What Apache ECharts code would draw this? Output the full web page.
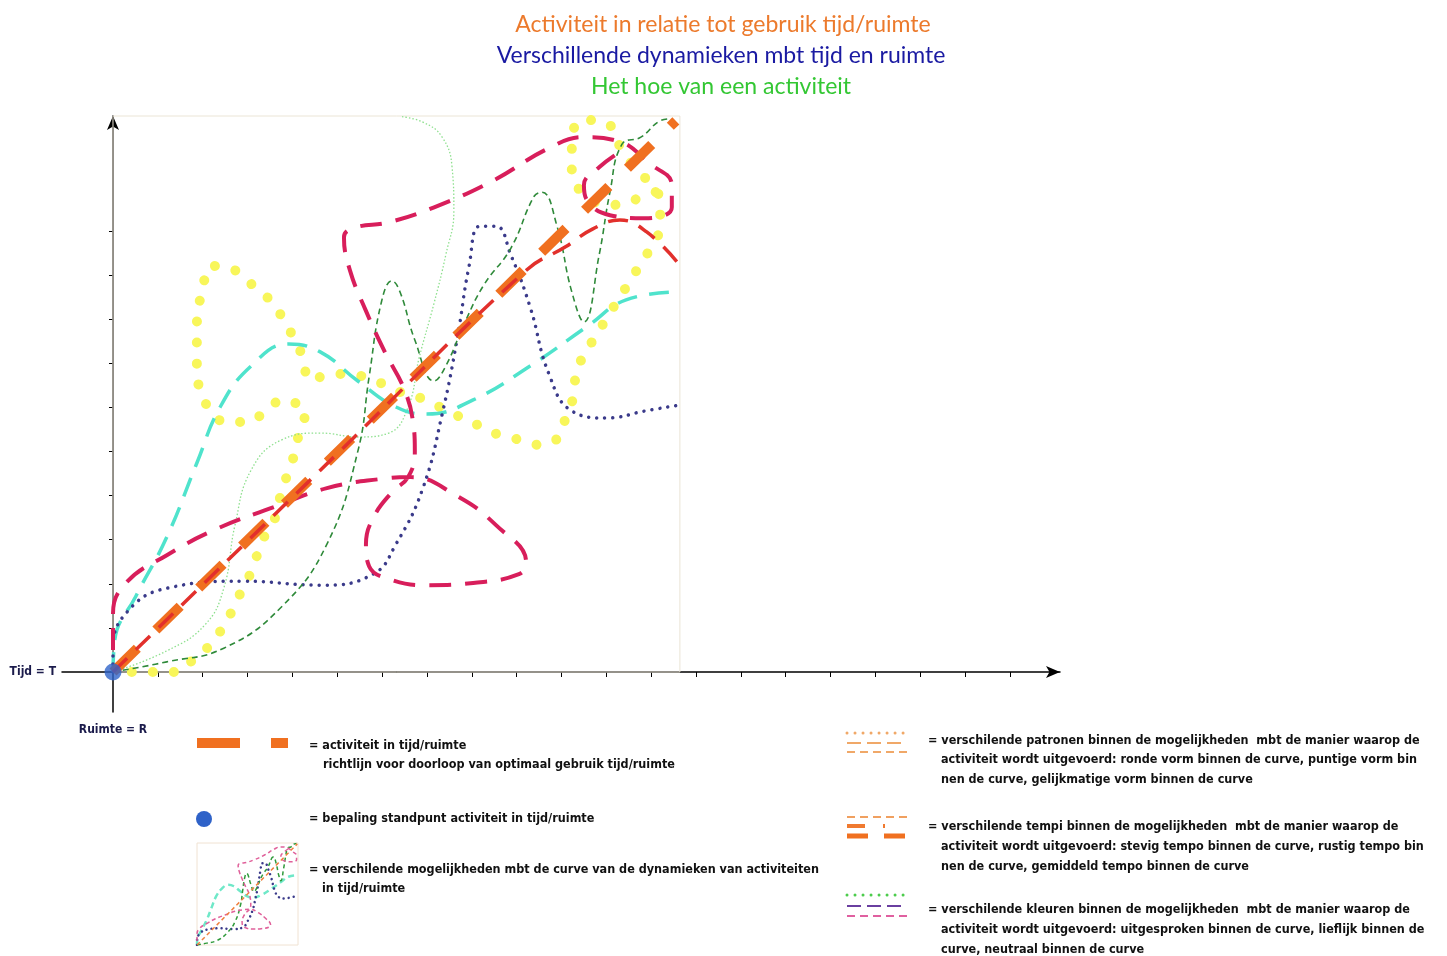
<!DOCTYPE html>
<html>
<head>
<meta charset="utf-8">
<script src="https://cdn.jsdelivr.net/npm/echarts@6/dist/echarts.min.js"></script>
<style>
html,body{margin:0;padding:0;background:#fff;}
#chart{width:1447px;height:956px;}
</style>
</head>
<body>
<div id="chart"></div>
<script>
// ---- Titles ----
const titles = [
  'Activiteit in relatie tot gebruik tijd/ruimte',
  'Verschillende dynamieken mbt tijd en ruimte',
  'Het hoe van een activiteit'
];
const axisNames = ['Tijd = T', 'Ruimte = R'];

// ---- Tick positions (axis units) ----
const xTicks = [1,2,3,4,5,6,7,8,9,10,11,12,13,14,15,16,17,18,19,20];
const yTicks = [1,2,3,4,5,6,7,8,9,10];

// ---- Curves (x = ruimte/tijd units, y = units) ----
const orangeLine = [[0,0],[12.55,12.5]];
const redLine = [[0,0],[5,4.95],[9.2,9.1],[10.1,9.65],[10.7,10.05],[11.3,10.25],[11.9,9.98],[12.62,9.25]];
const cyanCurve = [[0,0],[0.04,0.73],[0.51,1.72],[1.2,3.06],[1.87,4.74],[2.39,6.01],[3.08,6.94],[3.92,7.44],[4.62,7.26],[5.46,6.6],[6.31,6.01],[7.0,5.85],[8.03,6.17],[9.3,6.94],[10.59,7.85],[11.44,8.44],[12.62,8.62]];
const navyCurve = [[0,0],[0,0.54],[0.33,1.38],[1.2,1.9],[2.9,2.06],[4.62,1.97],[5.8,2.22],[6.31,2.9],[6.91,4.17],[7.34,5.85],[7.67,7.53],[7.94,9.21],[8.18,10.11],[8.54,10.11],[8.87,9.46],[9.3,8.28],[9.72,6.76],[10.23,5.92],[11.01,5.76],[11.86,5.92],[12.62,6.05]];
const greenCurve = [[0,0],[1.2,0.23],[2.47,0.54],[3.75,1.47],[4.77,2.9],[5.46,5.01],[5.71,6.69],[5.98,8.37],[6.22,8.87],[6.4,8.62],[6.73,7.53],[7.16,6.6],[7.42,6.94],[7.85,7.94],[8.27,8.78],[8.87,9.61],[9.39,10.79],[9.57,10.88],[9.9,10.11],[10.23,8.62],[10.5,7.94],[10.84,9.46],[11.08,10.88],[11.35,11.97],[11.77,12.13],[12.2,12.5],[12.45,12.55]];
const lightGreenCurve = [[0,0],[1.2,0.48],[2.05,1.07],[2.47,1.9],[2.72,3.33],[3.08,4.58],[3.75,5.26],[4.62,5.42],[5.46,5.33],[6.15,5.42],[6.58,6.01],[6.82,7.1],[7.16,8.37],[7.42,9.46],[7.6,10.45],[7.56,11.45],[7.34,12.13],[6.91,12.47],[6.4,12.6]];
const pinkCurve = [[0,0.5],[0,1.32],[0.29,2.02],[1.2,2.65],[2.3,3.24],[3.59,3.74],[4.77,4.17],[5.98,4.38],[6.64,4.42],[7.67,3.99],[8.54,3.33],[9.21,2.49],[9.05,2.22],[8.03,2.02],[7.0,1.97],[6.15,2.11],[5.71,2.4],[5.64,2.9],[5.8,3.49],[6.22,4.08],[6.58,4.42],[6.73,5.01],[6.69,5.67],[6.49,6.42],[6.06,7.26],[5.64,8.19],[5.28,9.12],[5.15,9.86],[5.37,10.07],[6.15,10.2],[7.16,10.54],[8.45,11.13],[9.72,11.88],[10.5,12.13],[11.26,12.04],[11.95,11.54],[12.46,11.04],[12.46,10.54],[11.86,10.29],[11.08,10.36],[10.57,10.7],[10.5,11.04],[10.84,11.45],[11.44,11.88]];
const yellowCurve = [[0.42,0],[0.89,0],[1.36,0],[1.78,0.27],[2.14,0.59],[2.43,0.98],[2.65,1.38],[2.85,1.81],[3.08,2.27],[3.23,2.7],[3.41,3.15],[3.68,3.65],[3.75,4.13],[3.92,4.54],[4.06,5.01],[4.17,5.51],[4.3,5.92],[4.17,6.05],[3.79,6.17],[3.41,5.92],[2.99,5.67],[2.52,5.67],[2.19,5.92],[1.96,6.35],[1.87,6.85],[1.87,7.35],[1.87,7.85],[1.92,8.32],[2.01,8.78],[2.19,9.21],[2.61,9.16],[2.99,8.87],[3.37,8.57],[3.68,8.19],[3.92,7.78],[4.15,7.35],[4.26,6.94],[4.39,6.62],[4.62,6.69],[5.08,6.76],[5.55,6.71],[5.98,6.55],[6.4,6.35],[6.87,6.21],[7.29,6.01],[7.71,5.8],[8.18,5.58],[8.63,5.37],[9.1,5.26],[9.52,5.15],[9.94,5.33],[10.1,5.8],[10.28,6.3],[10.32,6.76],[10.5,7.19],[10.75,7.6],[11.01,8.03],[11.26,8.44],[11.53,8.87],[11.77,9.27],[12.04,9.71],[12.2,10.11],[12.2,10.61],[12.04,11.04],[11.71,11.34],[11.35,11.84],[10.97,12.47],[10.46,12.52],[10.23,11.95],[10.23,11.38],[10.52,10.82],[11.08,10.59],[11.75,10.75],[12.2,10.93]];
const originPoint = [[0,0]];
const plotBox = [[0,0],[12.64,12.61]];

// ---- Legend texts ----
const legendLeft = [
  ['= activiteit in tijd/ruimte', 'richtlijn voor doorloop van optimaal gebruik tijd/ruimte'],
  ['= bepaling standpunt activiteit in tijd/ruimte'],
  ['= verschilende mogelijkheden mbt de curve van de dynamieken van activiteiten', 'in tijd/ruimte']
];
const legendRight = [
  ['= verschilende patronen binnen de mogelijkheden  mbt de manier waarop de', 'activiteit wordt uitgevoerd: ronde vorm binnen de curve, puntige vorm bin', 'nen de curve, gelijkmatige vorm binnen de curve'],
  ['= verschilende tempi binnen de mogelijkheden  mbt de manier waarop de', 'activiteit wordt uitgevoerd: stevig tempo binnen de curve, rustig tempo bin', 'nen de curve, gemiddeld tempo binnen de curve'],
  ['= verschilende kleuren binnen de mogelijkheden  mbt de manier waarop de', 'activiteit wordt uitgevoerd: uitgesproken binnen de curve, lieflijk binnen de', 'curve, neutraal binnen de curve']
];

const LFONT = "bold 12.5px 'Liberation Sans Narrow','DejaVu Sans Condensed','Roboto Condensed','Arial Narrow',sans-serif";
const TXT = '#111';

function textEl(str, x, y, extra) {
  return Object.assign({type:'text', x:x, y:y, silent:true,
    style:{text:str, font:LFONT, fill:TXT, verticalAlign:'middle'}}, extra||{});
}
function lineEl(x1,y1,x2,y2,color,w,dash,cap){
  return {type:'line', silent:true, shape:{x1:x1,y1:y1,x2:x2,y2:y2},
    style:{stroke:color, lineWidth:w, lineDash:dash||null, lineCap:cap||'butt'}};
}

const graphic = [];
// left legend
graphic.push({type:'rect', silent:true, shape:{x:197,y:738,width:43,height:10}, style:{fill:'#f07020'}});
graphic.push({type:'rect', silent:true, shape:{x:271,y:738,width:17,height:10}, style:{fill:'#f07020'}});
graphic.push(textEl(legendLeft[0][0], 309, 746));
graphic.push(textEl(legendLeft[0][1], 323, 765));
graphic.push({type:'circle', silent:true, shape:{cx:204,cy:819,r:8}, style:{fill:'#2f62c8'}});
graphic.push(textEl(legendLeft[1][0], 309, 819));
graphic.push(textEl(legendLeft[2][0], 309, 870));
graphic.push(textEl(legendLeft[2][1], 322, 889));
// right legend samples
graphic.push(lineEl(847,733,907,733,'#f0a868',3,[0.01,8],'round'));
graphic.push(lineEl(847,743,907,743,'#f0a868',2,[14,6]));
graphic.push(lineEl(847,752,907,752,'#f0a868',2,[8,5]));
graphic.push(lineEl(847,817,907,817,'#f0a060',2,[8,5]));
graphic.push(lineEl(847,826,907,826,'#f07a30',4,[18,18,2,50]));
graphic.push(lineEl(847,836,907,836,'#f07020',5,[21,16,21,20]));
graphic.push(lineEl(847,895,907,895,'#4ccc4c',3,[0.01,8],'round'));
graphic.push(lineEl(847,906,907,906,'#6a3fa0',2,[14,6]));
graphic.push(lineEl(847,916,907,916,'#e060a0',2,[8,5]));
const rightY = [[741,760,780],[827,847,867],[910,930,950]];
legendRight.forEach(function(lines, gi){
  lines.forEach(function(t, li){
    graphic.push(textEl(t, li===0 ? 928 : 941, rightY[gi][li]));
  });
});

function curve(data, color, width, dash, cap, z, gi){
  return {type:'line', data:data, smooth:0.45, symbol:'none', silent:true, z:z||2,
    xAxisIndex:gi||0, yAxisIndex:gi||0, clip:true,
    lineStyle:{color:color, width:width, type:dash, cap:cap||'butt', join:'round'}};
}

const series = [
  {type:'line', data:[], silent:true, markArea:{silent:true, itemStyle:{color:'rgba(0,0,0,0)', borderColor:'#ebe5d6', borderWidth:1},
    data:[[{coord:plotBox[0]},{coord:plotBox[1]}]]}},
  curve(yellowCurve, '#f8f65a', 10, [0.01, 21], 'round', 2),
  curve(lightGreenCurve, '#8ee08e', 1.3, [1.5, 2], 'butt', 3),
  curve(cyanCurve, '#4fe3cc', 3.5, [20, 12], 'butt', 3),
  curve(navyCurve, '#3a3a8a', 3.5, [0.01, 8], 'round', 4),
  curve(greenCurve, '#2f8a3a', 1.6, [6, 4], 'butt', 4),
  curve(pinkCurve, '#d81e5b', 4, [22, 14], 'butt', 5),
  Object.assign(curve(orangeLine, '#f07020', 10, [34, 26], 'butt', 6), {smooth:false}),
  curve(redLine, '#e2302c', 3.5, [20, 12], 'butt', 7),
  {type:'scatter', data:originPoint, symbolSize:17, itemStyle:{color:'#2f64c9'}, z:10, silent:true},
  // thumbnail copies
  curve(cyanCurve, '#6fe8c8', 2.5, [6, 4], 'butt', 3, 1),
  curve(navyCurve, '#3a3a8a', 2.5, [0.01, 5], 'round', 4, 1),
  curve(greenCurve, '#2f9a3a', 1.5, [4, 3], 'butt', 4, 1),
  curve(pinkCurve, '#e0609a', 1.5, [4, 3], 'butt', 5, 1),
  Object.assign(curve(orangeLine, '#f08040', 1.5, [4, 3], 'butt', 6, 1), {smooth:false})
];

const chart = echarts.init(document.getElementById('chart'), null, {renderer:'canvas'});
chart.setOption({
  animation:false,
  backgroundColor:'#ffffff',
  title: [
    {text:titles[0], left:718, top:8, textAlign:'center', textStyle:{color:'#ec7a2c', fontSize:23, fontWeight:'normal', fontFamily:'Lato, sans-serif'}},
    {text:titles[1], left:716, top:39, textAlign:'center', textStyle:{color:'#1a1aa2', fontSize:23, fontWeight:'normal', fontFamily:'Lato, sans-serif'}},
    {text:titles[2], left:716, top:70, textAlign:'center', textStyle:{color:'#33c733', fontSize:23, fontWeight:'normal', fontFamily:'Lato, sans-serif'}}
  ],
  grid:[
    {left:62, top:116, width:998, height:596, show:false},
    {left:197, top:843, width:101, height:102, show:true, borderColor:'#f0e2d2', borderWidth:1}
  ],
  xAxis:[
    {type:'value', min:-1.137, max:21.115, gridIndex:0,
     name:axisNames[0], nameLocation:'start', nameGap:6,
     nameTextStyle:{color:'#1b1b4b', fontWeight:'bold', fontSize:12, fontFamily:"'Liberation Sans Narrow','DejaVu Sans Condensed',sans-serif", align:'right', verticalAlign:'middle'},
     axisLine:{show:true, onZero:true, symbol:['none','arrow'], symbolSize:[9,14], lineStyle:{color:'#000', width:1.5}},
     axisTick:{show:true, length:5, customValues:xTicks, lineStyle:{color:'#000', width:1}},
     axisLabel:{show:false}, splitLine:{show:false}},
    {type:'value', min:0, max:12.64, gridIndex:1, show:false}
  ],
  yAxis:[
    {type:'value', min:-0.907, max:12.61, gridIndex:0,
     name:axisNames[1], nameLocation:'start', nameGap:12,
     nameTextStyle:{color:'#1b1b4b', fontWeight:'bold', fontSize:12, fontFamily:"'Liberation Sans Narrow','DejaVu Sans Condensed',sans-serif", verticalAlign:'top'},
     axisLine:{show:true, onZero:true, symbol:['none','arrow'], symbolSize:[9,14], lineStyle:{color:'#000', width:1.5}},
     axisTick:{show:true, length:4, customValues:yTicks, lineStyle:{color:'#000', width:1}},
     axisLabel:{show:false}, splitLine:{show:false}},
    {type:'value', min:0, max:12.61, gridIndex:1, show:false}
  ],
  series: series,
  graphic: graphic
});
</script>
</body>
</html>
